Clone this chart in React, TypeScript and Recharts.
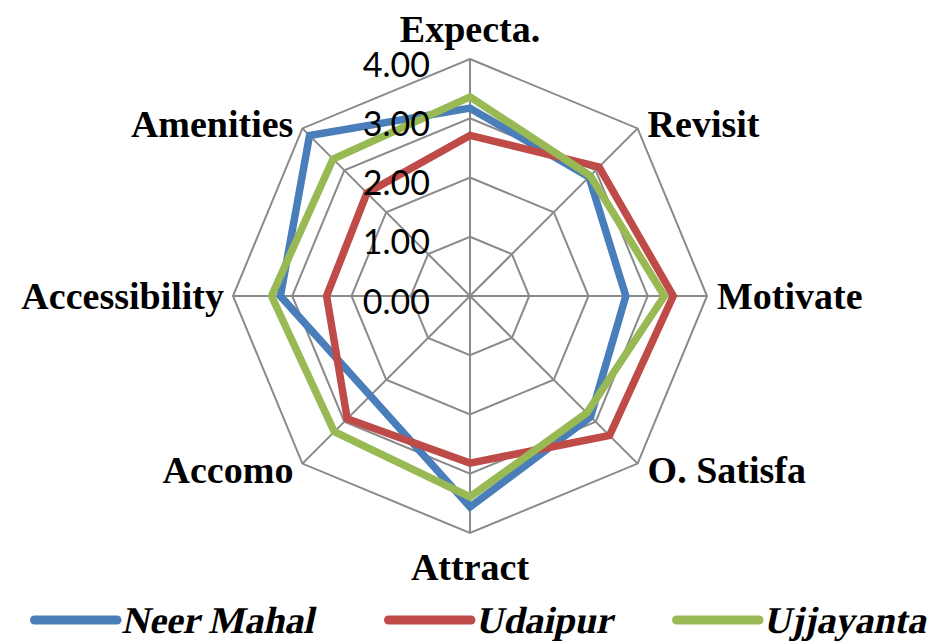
import {
  RadarChart,
  Radar,
  PolarGrid,
  PolarAngleAxis,
  PolarRadiusAxis,
  Legend,
} from "recharts";

const CATEGORIES = [
  "Expecta.",
  "Revisit",
  "Motivate",
  "O. Satisfa",
  "Attract",
  "Accomo",
  "Accessibility",
  "Amenities",
];

const NEER_MAHAL = [3.17, 2.84, 2.63, 2.88, 3.56, 2.38, 3.2, 3.83];
const UDAIPUR = [2.71, 3.08, 3.43, 3.33, 2.82, 2.93, 2.42, 2.46];
const UJJAYANTA = [3.36, 2.87, 3.28, 2.79, 3.39, 3.24, 3.35, 3.27];

const RADIUS_TICKS = [0, 1, 2, 3, 4];

const SERIES = [
  { key: "neer", name: "Neer Mahal", color: "#4A7EBB", values: NEER_MAHAL },
  { key: "udaipur", name: "Udaipur", color: "#BE4B48", values: UDAIPUR },
  { key: "ujjayanta", name: "Ujjayanta", color: "#98B954", values: UJJAYANTA },
];

const data = CATEGORIES.map((subject, i) => {
  const row: Record<string, string | number> = { subject };
  SERIES.forEach((s) => {
    row[s.key] = s.values[i];
  });
  return row;
});

const CX = 470;
const CY = 296;
const R = 237;

const SERIF = '"Liberation Serif", "Times New Roman", serif';

function AngleTick(props: any) {
  const { payload } = props;
  const i = CATEGORIES.indexOf(payload.value);
  const a = ((90 - i * 45) * Math.PI) / 180;
  const cos = Math.cos(a);
  const sin = Math.sin(a);
  const vx = CX + R * cos;
  const vy = CY - R * sin;
  let anchor: "start" | "end" | "middle" = "middle";
  let lx = vx;
  let ly = vy;
  if (cos > 0.1) {
    anchor = "start";
    lx = vx + 10;
  } else if (cos < -0.1) {
    anchor = "end";
    lx = vx - 9;
  }
  if (Math.abs(cos) < 0.1) {
    ly = sin > 0 ? vy - 30 : vy + 34;
  } else if (sin > 0.1) {
    ly = vy - 4;
  } else if (sin < -0.1) {
    ly = vy + 6;
  }
  return (
    <text
      x={lx}
      y={ly}
      textAnchor={anchor}
      dominantBaseline="central"
      fontFamily={SERIF}
      fontWeight="bold"
      fontSize={38}
      fill="#000"
    >
      {payload.value}
    </text>
  );
}

function RadiusTick(props: any) {
  const { payload } = props;
  const y = CY - (payload.value / 4) * R;
  return (
    <text
      x={CX - 40}
      y={y + 4}
      textAnchor="end"
      dominantBaseline="central"
      fontFamily="Lato, sans-serif"
      fontSize={34}
      fill="#000"
    >
      {Number(payload.value).toFixed(2)}
    </text>
  );
}

function LegendContent() {
  const lefts = [30, 384, 672];
  const y = 22;
  return (
    <svg width={934} height={44} style={{ display: "block" }}>
      {SERIES.map((s, i) => {
        const x = lefts[i];
        return (
          <g key={s.key}>
            <line
              x1={x + 4.5}
              x2={x + 87}
              y1={y}
              y2={y}
              stroke={s.color}
              strokeWidth={9}
              strokeLinecap="round"
            />
            <g transform={`translate(${x + 94},${y}) skewX(-12)`}>
              <text
                x={0}
                y={0}
                dominantBaseline="central"
                fontFamily={SERIF}
                fontWeight="bold"
                fontSize={38}
                fill="#000"
              >
                {s.name}
              </text>
            </g>
          </g>
        );
      })}
    </svg>
  );
}

export default function App() {
  return (
    <div style={{ position: "absolute", left: 0, top: 0, width: 934, height: 644, background: "#fff" }}>
      <RadarChart
        width={934}
        height={644}
        data={data}
        cx={CX}
        cy={CY}
        outerRadius={R}
        startAngle={90}
        endAngle={-270}
        margin={{ top: 0, right: 0, bottom: 0, left: 0 }}
      >
        <PolarGrid gridType="polygon" stroke="#8a8a8a" strokeWidth={2} />
        <PolarAngleAxis dataKey="subject" tick={<AngleTick />} tickLine={false} axisLine={false} />
        <PolarRadiusAxis
          angle={90}
          domain={[0, 4]}
          ticks={RADIUS_TICKS}
          tickCount={5}
          tick={<RadiusTick />}
          axisLine={false}
          tickLine={false}
        />
        {SERIES.map((s) => (
          <Radar
            key={s.key}
            name={s.name}
            dataKey={s.key}
            stroke={s.color}
            strokeWidth={7.5}
            fill="none"
            fillOpacity={0}
            dot={false}
            isAnimationActive={false}
          />
        ))}
        <Legend
          content={<LegendContent />}
          wrapperStyle={{ position: "absolute", left: 0, top: 598, width: 934 }}
        />
      </RadarChart>
    </div>
  );
}
